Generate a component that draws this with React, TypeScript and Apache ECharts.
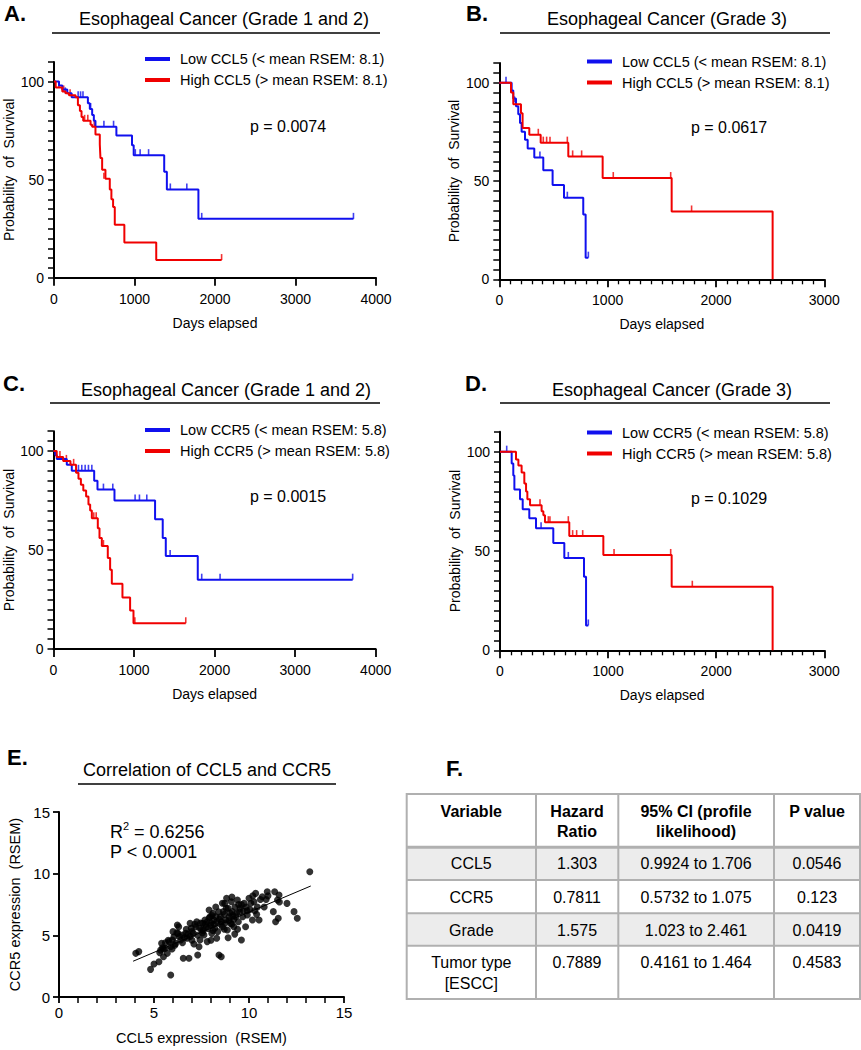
import React, { useEffect, useRef } from "react";
import * as echarts from "echarts";

const FONT = '"Liberation Sans", Arial, Helvetica, sans-serif';
const BLUE = "#1010ee";
const RED = "#f00000";

// ---------- Panel A (CCL5, grade 1 and 2) ----------
const aLowName = "Low CCL5 (< mean RSEM: 8.1)";
const aHighName = "High CCL5 (> mean RSEM: 8.1)";
const aLow = [[0,100],[62,98],[103,96],[165,94],[219,92],[421,89],[445,86],[474,83],[495,80],[515,77],[775,72.5],[969,67.5],[990,62.5],[1369,54],[1402,45],[1794,30],[3720,30]];
const aLowCens = [[140,94],[300,92],[330,92],[360,92],[455,86],[620,77],[740,77],[1010,62.5],[1070,62.5],[1175,62.5],[1445,45],[1650,45],[1835,30],[3720,30]];
const aHigh = [[0,100],[21,97],[103,95],[144,94],[186,93],[268,92],[297,88],[322,85],[342,82],[363,80],[454,78],[474,77],[515,73],[569,68],[577,61],[598,55],[639,50.5],[693,45],[713,40],[734,36],[755,27],[874,18],[1270,9],[2082,9]];
const aHighCens = [[60,97],[120,95],[200,93],[380,80],[420,80],[500,77],[620,50.5],[2082,9]];

// ---------- Panel B (CCL5, grade 3) ----------
const bLow = [[0,100],[114,96],[129,92],[154,88],[175,84],[191,79.5],[206,75],[237,71],[262,66.5],[323,62],[406,55.5],[492,48],[597,41.5],[775,33],[797,11],[822,11]];
const bLowCens = [[62,100],[140,90],[375,62],[628,41.5],[822,11]];
const bHigh = [[0,100],[108,95],[129,89],[200,84.5],[215,77],[277,73.5],[382,69.5],[637,62.5],[954,51.5],[1591,34.5],[2523,0]];
const bHighCens = [[360,73.5],[406,69.5],[437,69.5],[468,69.5],[628,69.5],[677,62.5],[760,62.5],[1052,51.5],[1582,51.5],[1775,34.5]];

// ---------- Panel C (CCR5, grade 1 and 2) ----------
const cLowName = "Low CCR5 (< mean RSEM: 5.8)";
const cHighName = "High CCR5 (> mean RSEM: 5.8)";
const cLow = [[0,100],[21,98],[41,96],[165,93],[227,90],[505,85],[546,80.5],[757,75],[1261,65.5],[1356,56],[1394,47],[1791,35],[3714,35]];
const cLowCens = [[310,90],[351,90],[393,90],[434,90],[476,90],[620,80.5],[736,80.5],[1013,75],[1067,75],[1158,75],[1448,47],[1840,35],[2068,35],[3714,35]];
const cHigh = [[0,100],[40,97],[120,95],[210,93],[280,89],[310,86],[340,83],[370,80],[405,77],[434,73],[455,70],[476,66],[550,61],[571,56],[600,52],[674,46],[703,40],[724,33],[856,26],[951,19.5],[993,13],[1642,13]];
const cHighCens = [[80,97],[160,95],[250,93],[500,66],[530,66],[620,52],[1010,13],[1642,13]];

// ---------- Panel D (CCR5, grade 3) ----------
const dLow = [[0,100],[108,94],[123,88],[133,81],[185,76],[210,71],[271,66.5],[333,61.5],[493,54],[595,46.5],[777,37],[796,12.5],[817,12.5]];
const dLowCens = [[62,100],[380,61.5],[632,46.5],[817,12.5]];
const dHigh = [[0,100],[148,96],[170,93],[200,89.5],[225,84],[241,80],[253,76],[278,73],[385,70],[401,68],[416,64.5],[641,57.5],[956,48],[1588,32],[2522,0]];
const dHighCens = [[370,73],[447,64.5],[462,64.5],[632,64.5],[672,57.5],[709,57.5],[765,57.5],[1055,48],[1579,48],[1779,32]];

const pValues = ["p = 0.0074", "p = 0.0617", "p = 0.0015", "p = 0.1029"];

// ---------- Panel E (correlation) ----------
const corrPoints = [
  [4.04,3.54],[4.2,3.68],[4.82,2.24],[5.0,2.68],[5.26,2.86],[5.35,3.8],[5.4,4.35],[5.5,3.27],[5.6,3.95],[5.7,3.54],
  [5.8,4.49],[5.88,4.08],[5.88,1.78],[5.96,4.62],[6.05,4.89],[6.14,4.35],[6.23,5.84],[6.26,5.16],[6.3,5.7],[6.4,4.62],
  [6.5,5.03],[6.54,3.14],[6.67,5.16],[6.75,4.76],[6.84,3.14],[6.9,5.97],[6.96,5.57],[7.07,5.16],[7.2,5.7],[7.25,6.1],
  [7.3,3.4],[7.37,4.08],[7.42,4.62],[7.5,5.43],[7.56,5.97],[7.63,5.03],[7.68,6.24],[7.75,5.7],[7.8,4.49],[7.9,7.05],
  [7.95,6.51],[7.98,5.84],[8.04,5.16],[8.1,6.78],[8.16,6.24],[8.2,5.57],[8.25,7.3],[8.3,4.76],[8.42,3.4],[8.54,3.27],
  [8.5,6.51],[8.6,5.7],[8.65,6.92],[8.72,7.59],[8.77,6.24],[8.82,8.0],[8.86,5.43],[8.9,7.19],[8.96,6.51],[9.03,5.97],
  [9.07,7.73],[9.12,6.92],[9.2,5.7],[9.26,7.3],[9.3,6.51],[9.39,7.86],[9.44,6.1],[9.53,7.19],[9.6,4.62],[9.67,6.51],
  [9.74,7.59],[9.82,5.7],[9.91,6.65],[10.0,8.0],[10.18,6.24],[10.26,7.73],[10.35,8.4],[10.44,7.3],[10.53,6.24],[10.7,8.13],
  [10.8,7.3],[10.96,8.54],[11.28,6.92],[11.35,8.54],[11.4,6.1],[11.5,7.86],[11.54,6.38],[11.58,8.27],[12.0,7.59],[12.37,6.92],
  [12.54,6.38],[13.2,10.16],
  [8.0,6.0],[8.3,6.1],[8.5,5.9],[7.7,5.9],[7.9,6.4],[8.7,6.7],[9.2,6.3],[9.0,6.8],[8.4,6.9],[7.6,5.4],
  [7.3,5.0],[6.9,4.9],[6.5,4.4],[6.1,4.2],[5.6,4.4],[5.3,3.6],[5.5,3.9],[7.0,5.3],[8.8,7.2],[9.6,7.5],
  [9.9,7.0],[10.1,7.6],[10.6,7.9],[11.0,8.2],[9.4,5.5],[8.9,4.8],[7.1,4.3],[6.2,5.2],[6.7,5.5],[8.1,5.4],
  [10.4,6.7],[11.6,7.7],[9.1,8.1],[8.6,7.6],[8.05,6.6],[8.35,5.3],[7.85,5.55],[9.5,6.9],[6.35,4.9],[5.95,3.9],
  [7.15,5.9],[7.45,6.0],[7.55,5.2],[7.8,6.1],[8.15,5.9],[8.25,6.5],[8.45,6.3],[8.55,6.1],[8.7,5.5],[8.75,6.0],
  [8.95,6.2],[9.1,5.9],[9.15,6.6],[9.35,6.8],[9.45,7.5],[9.7,7.0],[9.85,7.3],[10.05,7.1],[10.3,7.0],[10.9,7.9],
  [6.6,4.8],[6.8,5.1],[6.0,5.3],[5.75,4.6],[5.45,4.0],[7.0,4.6],[7.4,5.6],[8.0,4.6],[9.25,5.1],[10.2,8.2]
];
const fitLine = [[3.9,2.9],[13.25,9.0]];

// ---------- Panel F (table) ----------
const tableHeader = [["Variable"], ["Hazard", "Ratio"], ["95% CI (profile", "likelihood)"], ["P value"]];
const tableRows = [
  [["CCL5"], ["1.303"], ["0.9924 to 1.706"], ["0.0546"]],
  [["CCR5"], ["0.7811"], ["0.5732 to 1.075"], ["0.123"]],
  [["Grade"], ["1.575"], ["1.023 to 2.461"], ["0.0419"]],
  [["Tumor type", "[ESCC]"], ["0.7889"], ["0.4161 to 1.464"], ["0.4583"]],
];

const kmPanels = [
  { low: aLow, lowC: aLowCens, high: aHigh, highC: aHighCens, lowName: aLowName, highName: aHighName, xMax: 4000, minor: false },
  { low: bLow, lowC: bLowCens, high: bHigh, highC: bHighCens, lowName: aLowName, highName: aHighName, xMax: 3000, minor: true },
  { low: cLow, lowC: cLowCens, high: cHigh, highC: cHighCens, lowName: cLowName, highName: cHighName, xMax: 4000, minor: false },
  { low: dLow, lowC: dLowCens, high: dHigh, highC: dHighCens, lowName: cLowName, highName: cHighName, xMax: 3000, minor: true },
];

const kmGrids = [
  { left: 54, top: 62, width: 322, height: 215.7 },
  { left: 499.3, top: 63, width: 325, height: 216.3 },
  { left: 53.5, top: 431.2, width: 322.2, height: 217.8 },
  { left: 500, top: 431.8, width: 324.3, height: 218.5 },
];
const eGrid = { left: 59, top: 812, width: 285, height: 185 };

const legendPos = [
  { left: 140, top: 46 },
  { left: 582, top: 48.5 },
  { left: 140, top: 417 },
  { left: 582, top: 419.5 },
];
const pPos = [[288, 126], [729, 127], [288, 496], [729, 498]];

function txt(text, x, y, size, extra = {}) {
  return {
    type: "text",
    x,
    y,
    silent: true,
    style: {
      text,
      fontSize: size,
      fontFamily: FONT,
      fontWeight: extra.bold ? "bold" : "normal",
      fill: "#000",
      textAlign: extra.align || "center",
      align: extra.align || "center",
      textVerticalAlign: "middle",
      verticalAlign: "middle",
    },
  };
}
function hline(x1, x2, y, w = 1.3, color = "#000") {
  return { type: "line", silent: true, shape: { x1, y1: y, x2, y2: y }, style: { stroke: color, lineWidth: w } };
}
function vline(x, y1, y2, w = 1.3, color = "#000") {
  return { type: "line", silent: true, shape: { x1: x, y1, x2: x, y2 }, style: { stroke: color, lineWidth: w } };
}

export default function App() {
  const ref = useRef(null);
  useEffect(() => {
    document.body.style.margin = "0";
    const chart = echarts.init(ref.current, null, { renderer: "svg" });

    const axisLine = { show: true, lineStyle: { color: "#000", width: 2 } };
    const grids = [...kmGrids, eGrid].map((g) => ({ ...g, containLabel: false, outerBoundsMode: "none" }));

    const xAxes = kmPanels.map((p, i) => ({
      type: "value",
      gridIndex: i,
      min: 0,
      max: p.xMax,
      interval: 1000,
      axisLine,
      axisTick: { show: true, length: 8, lineStyle: { color: "#000", width: 1.8 } },
      minorTick: { show: p.minor, splitNumber: 10, length: 5, lineStyle: { color: "#000", width: 1.3 } },
      splitLine: { show: false },
      axisLabel: { fontSize: 14, fontFamily: FONT, color: "#000", margin: 14, formatter: (v) => String(v) },
      name: "Days elapsed",
      nameLocation: "middle",
      nameGap: 38,
      nameTextStyle: { fontSize: 14, fontFamily: FONT, color: "#000" },
    }));
    xAxes.push({
      type: "value",
      gridIndex: 4,
      min: 0,
      max: 15,
      interval: 5,
      axisLine,
      axisTick: { show: true, length: 6, lineStyle: { color: "#000", width: 1.8 } },
      minorTick: { show: true, splitNumber: 5, length: 6, lineStyle: { color: "#000", width: 1.5 } },
      splitLine: { show: false },
      axisLabel: { fontSize: 15, fontFamily: FONT, color: "#000", margin: 8, formatter: (v) => String(v) },
      name: "CCL5 expression  (RSEM)",
      nameLocation: "middle",
      nameGap: 33,
      nameTextStyle: { fontSize: 14.5, fontFamily: FONT, color: "#000" },
    });

    const yAxes = kmPanels.map((p, i) => ({
      type: "value",
      gridIndex: i,
      min: 0,
      max: 110,
      interval: 5,
      axisLine,
      axisTick: { show: true, length: 6, lineStyle: { color: "#000", width: 1.5 } },
      splitLine: { show: false },
      axisLabel: {
        fontSize: 14,
        fontFamily: FONT,
        color: "#000",
        margin: 10,
        formatter: (v) => (v % 50 === 0 && v <= 100 ? String(v) : ""),
      },
      name: "Probability  of  Survival",
      nameLocation: "middle",
      nameGap: 38,
      nameTextStyle: { fontSize: 14, fontFamily: FONT, color: "#000" },
    }));
    yAxes.push({
      type: "value",
      gridIndex: 4,
      min: 0,
      max: 15,
      interval: 5,
      axisLine,
      axisTick: { show: true, length: 6, lineStyle: { color: "#000", width: 1.8 } },
      splitLine: { show: false },
      axisLabel: { fontSize: 15, fontFamily: FONT, color: "#000", margin: 9 },
      name: "CCR5 expression  (RSEM)",
      nameLocation: "middle",
      nameGap: 37,
      nameTextStyle: { fontSize: 14.5, fontFamily: FONT, color: "#000" },
    });

    const series = [];
    kmPanels.forEach((p, i) => {
      const mk = (name, data, color) => ({
        type: "line",
        name,
        xAxisIndex: i,
        yAxisIndex: i,
        data,
        step: "end",
        showSymbol: false,
        symbol: "none",
        lineStyle: { color, width: 2 },
        itemStyle: { color },
        silent: true,
      });
      const cens = (name, data, color) => ({
        type: "scatter",
        name,
        xAxisIndex: i,
        yAxisIndex: i,
        data,
        symbol: "rect",
        symbolSize: [1.6, 6],
        symbolOffset: [0, -3],
        itemStyle: { color },
        silent: true,
      });
      series.push(mk(p.lowName, p.low, BLUE));
      series.push(cens("censor-low-" + i, p.lowC, BLUE));
      series.push(mk(p.highName, p.high, RED));
      series.push(cens("censor-high-" + i, p.highC, RED));
    });
    series.push({
      type: "scatter",
      name: "samples",
      xAxisIndex: 4,
      yAxisIndex: 4,
      data: corrPoints,
      symbol: "circle",
      symbolSize: 7,
      itemStyle: { color: "#000" },
      silent: true,
    });
    series.push({
      type: "line",
      name: "fit",
      xAxisIndex: 4,
      yAxisIndex: 4,
      data: fitLine,
      showSymbol: false,
      symbol: "none",
      lineStyle: { color: "#000", width: 1 },
      silent: true,
    });

    const legends = kmPanels.map((p, i) => ({
      show: true,
      orient: "vertical",
      left: legendPos[i].left,
      top: legendPos[i].top,
      data: [p.lowName, p.highName],
      icon: "rect",
      itemWidth: 25,
      itemHeight: 4,
      itemGap: 5,
      selectedMode: false,
      textStyle: { fontSize: 14.5, fontFamily: FONT, color: "#000", lineHeight: 16, padding: [0, 0, 0, 5] },
    }));

    const g = [];
    // panel letters and titles
    g.push(txt("A.", 4, 13, 22, { bold: true, align: "left" }));
    g.push(txt("B.", 466, 13, 22, { bold: true, align: "left" }));
    g.push(txt("C.", 3, 383, 22, { bold: true, align: "left" }));
    g.push(txt("D.", 465, 383, 22, { bold: true, align: "left" }));
    g.push(txt("E.", 7, 757, 22, { bold: true, align: "left" }));
    g.push(txt("F.", 446, 768, 22, { bold: true, align: "left" }));
    g.push(txt("Esophageal Cancer (Grade 1 and 2)", 224, 19, 18));
    g.push(txt("Esophageal Cancer (Grade 3)", 667, 19, 18));
    g.push(txt("Esophageal Cancer (Grade 1 and 2)", 226, 390, 18));
    g.push(txt("Esophageal Cancer (Grade 3)", 672, 390, 18));
    g.push(txt("Correlation of CCL5 and CCR5", 207, 770, 18));
    g.push(hline(52, 380, 33));
    g.push(hline(500, 830, 33));
    g.push(hline(50, 380, 403));
    g.push(hline(500, 830, 403));
    g.push(hline(78, 336, 784));
    pValues.forEach((p, i) => g.push(txt(p, pPos[i][0], pPos[i][1], 16)));
    // R squared and P
    g.push(txt("R", 110, 832, 18, { align: "left" }));
    g.push(txt("2", 123, 826, 11, { align: "left" }));
    g.push(txt(" = 0.6256", 129, 832, 18, { align: "left" }));
    g.push(txt("P < 0.0001", 110, 852, 18, { align: "left" }));

    // table
    const colX = [406.7, 536, 618.3, 774, 860];
    const rowY = [794, 847.3, 880, 913.3, 945.7, 999];
    const border = "#b0b0b0";
    g.push({ type: "rect", silent: true, shape: { x: colX[0], y: rowY[1], width: colX[4] - colX[0], height: rowY[2] - rowY[1] }, style: { fill: "#ececec" } });
    g.push({ type: "rect", silent: true, shape: { x: colX[0], y: rowY[3], width: colX[4] - colX[0], height: rowY[4] - rowY[3] }, style: { fill: "#ececec" } });
    g.push({ type: "rect", silent: true, shape: { x: colX[0], y: rowY[0], width: colX[4] - colX[0], height: rowY[5] - rowY[0] }, style: { fill: "none", stroke: border, lineWidth: 2 } });
    for (let c = 1; c < 4; c++) g.push(vline(colX[c], rowY[0], rowY[5], 2, border));
    g.push(hline(colX[0], colX[4], rowY[1], 3, border));
    for (let r = 2; r < 5; r++) g.push(hline(colX[0], colX[4], rowY[r], 2, border));
    const colC = [471.3, 577, 696, 817];
    tableHeader.forEach((lines, c) => {
      lines.forEach((t, k) => g.push(txt(t, colC[c], 811.7 + k * 20, 16, { bold: true })));
    });
    const rowTextY = [863.3, 897.3, 930, 962.7];
    tableRows.forEach((row, r) => {
      row.forEach((lines, c) => {
        lines.forEach((t, k) => g.push(txt(t, colC[c], rowTextY[r] + k * 20.6, 16)));
      });
    });

    chart.setOption({
      animation: false,
      backgroundColor: "#fff",
      textStyle: { fontFamily: FONT },
      grid: grids,
      xAxis: xAxes,
      yAxis: yAxes,
      legend: legends,
      series,
      graphic: { elements: g },
    });
    return () => chart.dispose();
  }, []);
  return <div ref={ref} style={{ width: 861, height: 1050 }} />;
}
